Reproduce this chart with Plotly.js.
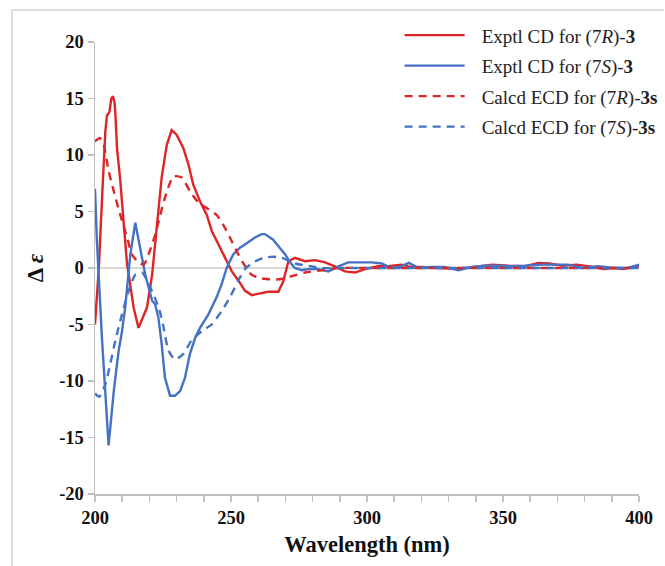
<!DOCTYPE html>
<html>
<head>
<meta charset="utf-8">
<script src="https://cdn.plot.ly/plotly-3.0.1.min.js"></script>
<style>html,body{margin:0;padding:0;background:#fff;}#chart{width:665px;height:566px;}</style>
</head>
<body>
<div id="chart"></div>
<script>
// Exptl CD for (7R)-3
const wlRexp = [200,201.4,202.6,203.8,204.4,205.3,206.0,206.6,207.2,207.5,208.1,209.3,210.5,211.8,212.4,214.2,216.0,217.3,219.1,221.0,222.2,224.5,226.4,228.2,230.0,232.5,234.3,236.1,238.6,241.1,242.9,245.3,247.8,250.3,252.7,255.1,257.6,260.0,263.7,267.4,269.2,271.1,273.5,277.2,280.9,284.6,288.2,291.9,295.6,299.3,304,307.7,312.7,316,320,326,333,338,346,352,358,363,367,372,377,382,387,391,394,397,400];
const cdRexp = [-5.0,0,6.2,12.1,13.5,13.8,15.0,15.2,14.6,13.6,10.6,7.7,4.1,0.3,-0.6,-3.5,-5.3,-4.5,-3.5,-0.6,2.4,8.0,10.9,12.2,11.8,10.6,9.2,7.4,5.9,4.7,3.3,2.1,0.9,-0.3,-1.1,-2.0,-2.4,-2.3,-2.1,-2.1,-1.2,0.6,0.9,0.6,0.7,0.5,0.15,-0.3,-0.4,-0.1,0.15,0.15,0.3,0.1,0.1,0.0,-0.05,0.05,0.3,0.2,0.15,0.45,0.4,0.2,0.3,0.15,-0.1,0.0,-0.1,0.05,0.15];

// Exptl CD for (7S)-3
const wlSexp = [200,200.7,202.6,203.7,205.0,206.9,208.7,209.8,211.1,212.3,213.0,214.8,216.7,218.5,221.0,222.1,223.3,224.5,225.7,227.6,229.4,231.3,233.1,234.9,236.8,238.6,241.7,244.7,246.6,248.4,250.8,253.3,255.8,258.8,261.3,262.5,265.5,267.4,269.9,271.7,273.5,276.0,278.4,282.1,285.8,289.5,293.1,298.0,301.7,305.4,309.0,312.0,315.4,319,324,328.5,333.6,338.5,343.4,348.3,353.2,358,364,369,374,379,385,391,396,400];
const cdSexp = [7.0,2.4,-6.4,-11.1,-15.7,-10.9,-7.3,-5.8,-3.5,-0.5,1.2,4.0,1.8,-0.6,-2.9,-3.2,-4.4,-6.7,-9.7,-11.3,-11.3,-10.9,-9.7,-7.6,-6.2,-5.3,-4.1,-2.6,-1.4,0,1.2,1.8,2.2,2.7,3.0,3.0,2.5,1.9,1.2,0.5,0,-0.2,-0.1,-0.1,-0.3,0.15,0.5,0.5,0.5,0.4,0.0,0.1,0.45,0.0,0.1,0.1,-0.2,0.1,0.2,0.2,0.15,0.2,0.3,0.3,0.3,0.0,0.15,0.0,0.0,0.3];

// Calcd ECD for (7R)-3s
const wlRcalc = [200,201.8,203.2,205.0,206.9,209.3,211.8,213.6,216.0,217.9,219.7,222.2,224.0,225.7,228.8,231.9,234.9,238.0,241.7,244.7,247.2,249.6,252.7,255.1,257.6,260.7,264.3,268.0,272.7,277.2,283.5,289.5,300,320,350,380,400];
const cdRcalc = [11.2,11.5,10.9,8.6,6.8,4.7,2.7,1.2,0.5,0.3,1.2,3.0,4.7,6.2,8.1,8.0,6.8,5.8,5.2,4.7,3.8,2.7,1.2,0.2,-0.6,-0.9,-1.0,-1.0,-0.7,-0.4,-0.2,0.0,0.0,0.0,0.0,0.0,0.0];

// Calcd ECD for (7S)-3s
const wlScalc = [200,201.5,203.8,205.6,207.5,209.9,212.4,214.8,217.3,220.3,223.4,225.0,227.0,229.4,232.5,235.5,239.2,242.9,246.6,249.6,252.7,255.1,258.2,261.9,265.5,268.6,273.5,278.4,283.0,290,300,320,350,380,400];
const cdScalc = [-11.1,-11.4,-10.3,-8.5,-6.4,-4.1,-2.0,-0.6,-0.4,-1.7,-3.5,-5.0,-7.3,-8.1,-7.6,-6.4,-5.6,-5.0,-3.8,-2.6,-1.1,-0.1,0.5,0.9,1.0,0.9,0.4,0.2,0.0,0.0,0.0,0.0,0.0,0.0,0.0];

const names = ["Exptl CD for (7<i>R</i>)-<b>3</b>", "Exptl CD for (7<i>S</i>)-<b>3</b>", "Calcd ECD for (7<i>R</i>)-<b>3s</b>", "Calcd ECD for (7<i>S</i>)-<b>3s</b>"];
const xTicks = [200,250,300,350,400];
const yTicks = [-20,-15,-10,-5,0,5,10,15,20];

const RED = '#dd2427', BLUE = '#4472c4';
const serif = 'Liberation Serif, Times New Roman, serif';

const traces = [
  {x: wlRexp, y: cdRexp, name: names[0], mode: 'lines', line: {color: RED, width: 2.4}},
  {x: wlSexp, y: cdSexp, name: names[1], mode: 'lines', line: {color: BLUE, width: 2.4}},
  {x: wlRcalc, y: cdRcalc, name: names[2], mode: 'lines', line: {color: RED, width: 2.4, dash: '8px,6px', shape: 'spline', smoothing: 0.6}},
  {x: wlScalc, y: cdScalc, name: names[3], mode: 'lines', line: {color: BLUE, width: 2.4, dash: '8px,6px', shape: 'spline', smoothing: 0.6}}
];

const layout = {
  width: 665, height: 566,
  margin: {l: 95, r: 26, t: 42, b: 72, autoexpand: false},
  paper_bgcolor: '#fff', plot_bgcolor: '#fff',
  showlegend: true,
  legend: {x: 0.56, y: 1.057, xanchor: 'left', yanchor: 'top', font: {family: serif, size: 19, color: '#222'},
           bgcolor: 'rgba(0,0,0,0)', itemwidth: 72, traceorder: 'normal'},
  xaxis: {
    range: [200, 400], tickvals: xTicks, ticktext: xTicks.map(v => '<b>' + v + '</b>'),
    showline: true, linecolor: '#bfbfbf', linewidth: 1.5, ticks: 'outside', ticklen: 6, tickcolor: '#bfbfbf', tickwidth: 1.5,
    minor: {dtick: 10, ticks: 'outside', ticklen: 6, tickcolor: '#bfbfbf', tickwidth: 1.5},
    showgrid: false, zeroline: false,
    tickfont: {family: serif, size: 18.5, color: '#111'},
    title: {text: '<b>Wavelength (nm)</b>', font: {family: serif, size: 22.5, color: '#111'}, standoff: 9}
  },
  yaxis: {
    range: [-20, 20], tickvals: yTicks, ticktext: yTicks.map(v => '<b>' + v + '</b>'),
    showline: true, linecolor: '#bfbfbf', linewidth: 1.5, ticks: 'outside', ticklen: 6, tickcolor: '#bfbfbf', tickwidth: 1.5,
    showgrid: false, zeroline: true, zerolinecolor: '#d9d9d9', zerolinewidth: 2,
    tickfont: {family: serif, size: 18.5, color: '#111'},
    title: {text: '<b>Δ <i>ε</i></b>', font: {family: serif, size: 23, color: '#111'}, standoff: 9}
  },
  shapes: [
    {type: 'line', xref: 'paper', yref: 'paper', x0: -0.1526, x1: -0.1526, y0: 1.0708, y1: -0.2, line: {color: '#d0d0d0', width: 1.5}},
    {type: 'line', xref: 'paper', yref: 'paper', x0: -0.1526, x1: 1.045, y0: 1.0708, y1: 1.0708, line: {color: '#d0d0d0', width: 1.5}}
  ]
};

Plotly.newPlot('chart', traces, layout, {displayModeBar: false, staticPlot: true}).then(function (gd) {
  // lengthen the legend line samples and space the rows like the reference key
  gd.querySelectorAll('.legend .legendlines path').forEach(function (p) {
    p.setAttribute('d', 'M5,0h60');
  });
  const rows = gd.querySelectorAll('.legend .traces');
  if (rows.length) {
    const m = /translate\(\s*([-\d.]+)[ ,]+([-\d.]+)/.exec(rows[0].getAttribute('transform') || '');
    const x0 = m ? parseFloat(m[1]) : 0, y0 = m ? parseFloat(m[2]) : 0;
    rows.forEach(function (r, i) {
      r.setAttribute('transform', 'translate(' + x0 + ',' + (y0 + i * 30.5) + ')');
    });
  }
});
</script>
</body>
</html>
